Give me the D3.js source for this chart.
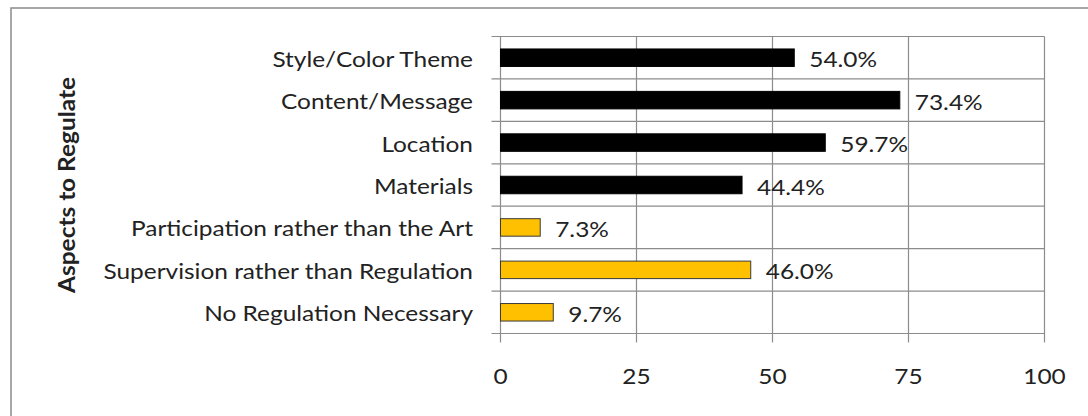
<!DOCTYPE html>
<html>
<head>
<meta charset="utf-8">
<script src="https://cdn.jsdelivr.net/npm/d3@7"></script>
<style>
  html, body { margin: 0; padding: 0; background: #fff; }
  svg { display: block; }
  text { font-family: Lato, "Open Sans", sans-serif; fill: #222; }
</style>
</head>
<body>
<svg id="chart" width="1088" height="416"></svg>
<script>
// Survey responses: share of respondents per aspect (percent)
const categories = [
  "Style/Color Theme",
  "Content/Message",
  "Location",
  "Materials",
  "Participation rather than the Art",
  "Supervision rather than Regulation",
  "No Regulation Necessary"
];
const values = [54.0, 73.4, 59.7, 44.4, 7.3, 46.0, 9.7];
const groups = ["aspect", "aspect", "aspect", "aspect", "alt", "alt", "alt"];
const xTicks = [0, 25, 50, 75, 100];
const axisTitle = "Aspects to Regulate";

const colors = { aspect: "#000000", alt: "#FFC000" };
const strokes = { aspect: "#000000", alt: "#3a3a3a" };

const svg = d3.select("#chart");
const plot = { left: 500.5, right: 1044.5, top: 36.5, bottom: 333.5 };
const textScale = 1.11;   // slightly widened lettering
const fontSize = 22;

// Frame around the chart area
svg.append("rect")
  .attr("x", 11).attr("y", 8)
  .attr("width", 1200).attr("height", 600)
  .attr("fill", "none").attr("stroke", "#8a8a8a").attr("stroke-width", 1.5);

const x = d3.scaleLinear().domain([0, 100]).range([plot.left, plot.right]);
const y = d3.scaleBand().domain(categories).range([plot.top, plot.bottom]).paddingInner(0).paddingOuter(0);

const gridColor = "#8c8c8c";

// Vertical gridlines (extending down as axis ticks)
svg.append("g").selectAll("line").data(xTicks).join("line")
  .attr("x1", d => x(d)).attr("x2", d => x(d))
  .attr("y1", plot.top).attr("y2", plot.bottom + 9)
  .attr("stroke", gridColor).attr("stroke-width", 1.2);

// Horizontal band separators (with ticks reaching left of the axis)
const bounds = categories.map(c => y(c)).concat([plot.bottom]);
svg.append("g").selectAll("line").data(bounds).join("line")
  .attr("x1", plot.left - 9).attr("x2", plot.right)
  .attr("y1", d => d).attr("y2", d => d)
  .attr("stroke", gridColor).attr("stroke-width", 1.2);

// X tick labels
svg.append("g").selectAll("text").data(xTicks).join("text")
  .attr("transform", d => `translate(${x(d)},384) scale(${textScale},1)`)
  .attr("text-anchor", "middle")
  .attr("font-size", fontSize)
  .text(d => d);

// Bars
const barH = 17.5;
svg.append("g").selectAll("rect").data(categories).join("rect")
  .attr("x", x(0))
  .attr("y", c => y(c) + y.bandwidth() / 2 - barH / 2)
  .attr("width", (c, i) => x(values[i]) - x(0))
  .attr("height", barH)
  .attr("fill", (c, i) => colors[groups[i]])
  .attr("stroke", (c, i) => strokes[groups[i]])
  .attr("stroke-width", 1);

// Value labels
svg.append("g").selectAll("text").data(categories).join("text")
  .attr("transform", (c, i) => `translate(${x(values[i]) + 15},${y(c) + y.bandwidth() / 2 + 9.5}) scale(${textScale},1)`)
  .attr("font-size", fontSize)
  .text((c, i) => values[i].toFixed(1) + "%");

// Category labels
svg.append("g").selectAll("text").data(categories).join("text")
  .attr("transform", c => `translate(473,${y(c) + y.bandwidth() / 2 + 9}) scale(${textScale},1)`)
  .attr("text-anchor", "end")
  .attr("font-size", fontSize)
  .text(c => c);

// Axis title
svg.append("text")
  .attr("transform", `translate(75, ${(plot.top + plot.bottom) / 2}) rotate(-90) scale(${textScale},1)`)
  .attr("text-anchor", "middle")
  .attr("font-size", fontSize)
  .attr("font-weight", "bold")
  .text(axisTitle);
</script>
</body>
</html>
